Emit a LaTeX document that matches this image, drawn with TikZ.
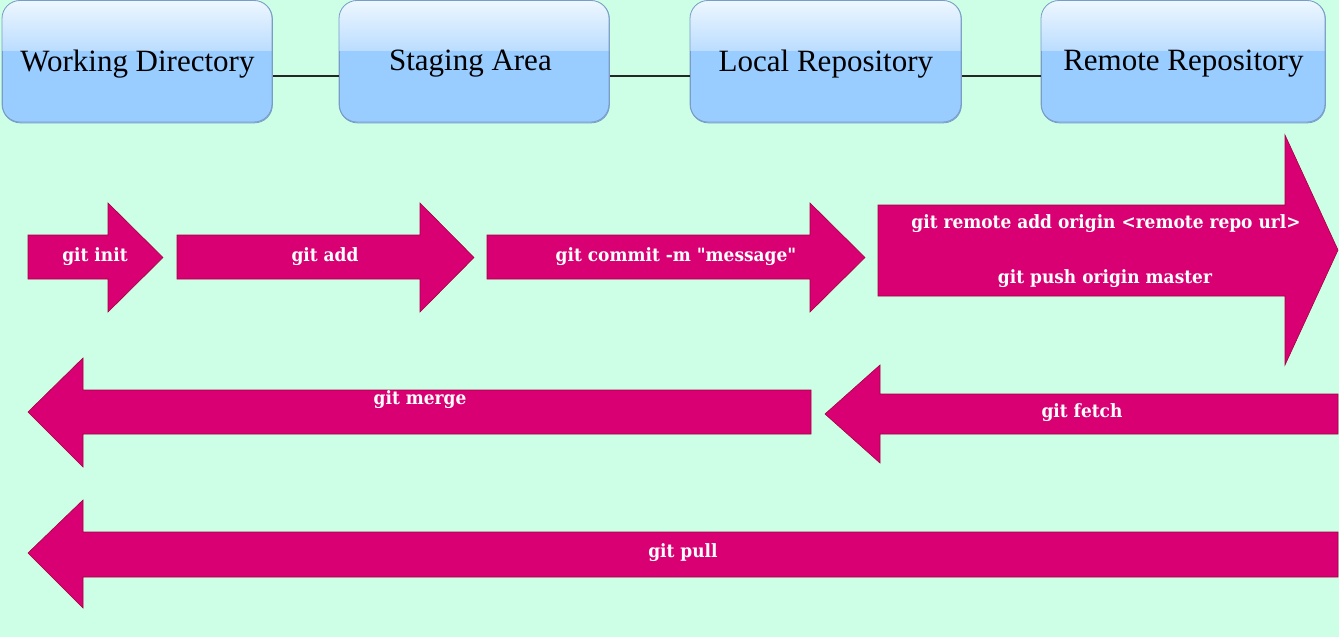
\documentclass[tikz,border=0pt]{standalone}
\usepackage{fontspec}
\setmainfont{Liberation Serif}
\newfontfamily\arrowfont[FakeStretch=0.93]{DejaVu Serif}
\usetikzlibrary{calc}
\definecolor{bgmint}{HTML}{CCFFE6}
\definecolor{boxblue}{HTML}{99CCFF}
\definecolor{boxtop}{HTML}{EEF7FF}
\definecolor{boxmid}{HTML}{BBDDFF}
\definecolor{boxedge}{HTML}{7A9CC6}
\definecolor{arrowfill}{HTML}{D80073}
\definecolor{arrowedge}{HTML}{A50040}
\tikzset{
  stagebox/.style={draw=boxedge, line width=0.8pt, fill=boxblue, rounded corners=18pt,
    minimum height=122pt, anchor=north west, inner sep=0pt},
  stagelabel/.style={font=\fontsize{31}{31}\selectfont, text=black, anchor=center},
  linkline/.style={line width=2pt, draw=black!85},
  gitarrow/.style={fill=arrowfill, draw=arrowedge, line width=0.6pt},
  arrowlabel/.style={font=\arrowfont\bfseries\fontsize{18.3}{18.3}\selectfont, text=white, anchor=center, inner sep=0pt}
}
\begin{document}
\begin{tikzpicture}[x=1pt,y=-1pt]
\useasboundingbox (0,0) rectangle (1339,637);
\fill[bgmint] (0,0) rectangle (1339,637);

% stage boxes
\foreach \nm/\xx/\ww in {wd/2/270, sa/339/270, lr/690/271, rr/1041/284}{
  \node[stagebox, minimum width=\ww pt] (\nm) at (\xx,0.5) {};
  \begin{scope}
    \clip[rounded corners=18pt] (\xx,0.5) rectangle ++(\ww,121.5);
    \shade[top color=boxtop, bottom color=boxmid] (\xx,0.5) rectangle ++(\ww,50);
  \end{scope}
  \draw[draw=boxedge, line width=0.8pt, rounded corners=18pt] (\xx,0.5) rectangle ++(\ww,121.5);
}
\node[stagelabel] (wdt) at ($(wd.center)+(0,2)$) {Working Directory};
\node[stagelabel] (sat) at ($(sa.center)+(-4,2)$) {Staging Area};
\node[stagelabel] (lrt) at ($(lr.center)+(0,2)$) {Local Repository};
\node[stagelabel] (rrt) at ($(rr.center)+(0,2)$) {Remote Repository};

\draw[linkline] ([yshift=-14pt]wd.east) -- ([yshift=-14pt]sa.west);
\draw[linkline] ([yshift=-14pt]sa.east) -- ([yshift=-14pt]lr.west);
\draw[linkline] ([yshift=-14pt]lr.east) -- ([yshift=-14pt]rr.west);

% forward arrows
\draw[gitarrow] (28,235) -- (108,235) -- (108,203) -- (163,257.5) -- (108,312) -- (108,279) -- (28,279) -- cycle;
\draw[gitarrow] (177,235) -- (420,235) -- (420,203) -- (474,257.5) -- (420,312) -- (420,279) -- (177,279) -- cycle;
\draw[gitarrow] (487,235) -- (810,235) -- (810,203) -- (865,257.5) -- (810,312) -- (810,279) -- (487,279) -- cycle;
\draw[gitarrow] (878,205) -- (1285,205) -- (1285,135) -- (1338,250) -- (1285,365) -- (1285,296) -- (878,296) -- cycle;

% backward arrows
\draw[gitarrow] (811,390) -- (83,390) -- (83,358) -- (28,412) -- (83,467) -- (83,434) -- (811,434) -- cycle;
\draw[gitarrow] (1338,394) -- (880,394) -- (880,365) -- (825,414) -- (880,463) -- (880,434) -- (1338,434) -- cycle;
\draw[gitarrow] (1338,532) -- (83,532) -- (83,500) -- (28,553) -- (83,608) -- (83,577) -- (1338,577) -- cycle;

% labels
\node[arrowlabel] (linit) at (95,257) {git init};
\node[arrowlabel] (ladd) at (325,257) {git add};
\node[arrowlabel] (lcommit) at (676,257) {git commit -m "message"};
\node[arrowlabel] (lremote) at (1106,224) {git remote add origin <remote repo url>};
\node[arrowlabel] (lpush) at (1105,279) {git push origin master};
\node[arrowlabel] (lmerge) at (420,400) {git merge};
\node[arrowlabel] (lfetch) at (1082,413) {git fetch};
\node[arrowlabel] (lpull) at (683,553) {git pull};
\end{tikzpicture}
\end{document}
